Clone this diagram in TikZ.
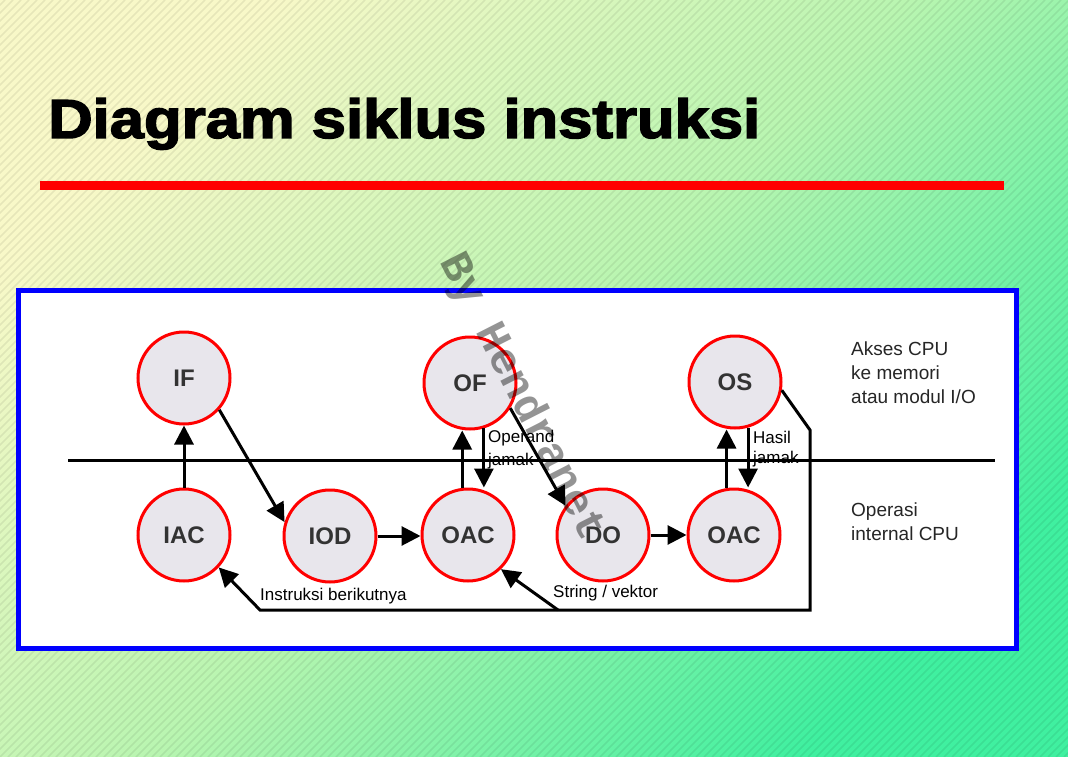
\documentclass[tikz,border=0pt]{standalone}
\usepackage{fontspec}
\usepackage{graphicx}
\setmainfont{Liberation Sans}
\newfontfamily\wmfont{Liberation Mono}
\newfontfamily\titlefont[BoldFeatures={FakeBold=2.5}]{Liberation Sans}
\usetikzlibrary{arrows.meta}
\definecolor{bgA}{HTML}{F8F8C8}
\definecolor{bgM}{HTML}{B8F5B0}
\definecolor{bgB}{HTML}{40F0A0}
\definecolor{circfill}{HTML}{E8E6EC}
\definecolor{lbl}{HTML}{333333}
\begin{document}
\begin{tikzpicture}[x=1pt,y=-1pt,
  stage/.style={circle, draw=red, line width=3pt, fill=circfill, minimum size=92pt, inner sep=0pt, font=\fontsize{24}{24}\selectfont\bfseries, text=lbl},
  conn/.style={line width=3pt, -{Triangle[length=19pt,width=19pt]}},
  plain/.style={line width=3pt},
  note/.style={font=\fontsize{17}{22}\selectfont, anchor=west, inner sep=0pt},
  side/.style={font=\fontsize{19}{24}\selectfont, anchor=north west, align=left, inner sep=0pt, text=black!85},
  stripe/.style={black, opacity=0.07, line width=1.5pt}
]
\useasboundingbox (0,0) rectangle (1068,757);
\shade[top color=bgA, bottom color=bgB, middle color=bgM, shading angle=45] (0,0) rectangle (1068,757);
\begin{scope}
\clip (0,0) rectangle (1068,757);
\foreach \i in {-760,-752,...,1068} \draw[stripe] (\i,757) -- ++(757,-757);
\end{scope}
% title
\node[anchor=base west, inner sep=0pt, font=\titlefont\fontsize{55}{55}\selectfont\bfseries] (title) at (48,138) {\scalebox{1.12}[1]{Diagram siklus instruksi}};
\fill[red] (40,181) rectangle (1004,190);
% frame
\draw[blue, line width=5pt, fill=white] (18,290) rectangle (1016,648);
% stages
\node[stage] (IF) at (184,378) {IF};
\node[stage] (OF) at (470,383) {OF};
\node[stage] (OS) at (735,382) {OS};
\node[stage] (IAC) at (184,535) {IAC};
\node[stage] (IOD) at (330,536) {IOD};
\node[stage] (OAC1) at (468,535) {OAC};
\node[stage] (DO) at (603,535) {DO};
\node[stage] (OAC2) at (734,535) {OAC};
% labels
\node[note] (opl) at (488,438) {Operand};
\node[note] (opj) at (488,461) {jamak};
\node[note] (hl) at (753,437) {Hasil};
\node[note] (hj) at (753,459) {jamak};
\node[note] (ib) at (260,596) {Instruksi berikutnya};
\node[note] (svl) at (553,593) {String / vektor};
\node[side] (ak) at (851,342) {Akses CPU\\ke memori\\atau modul I/O};
\node[side] (op) at (851,503) {Operasi\\internal CPU};
% divider
\coordinate (dl) at (68,460);
\coordinate (dr) at (995,460);
\draw[plain] (dl) -- (dr);
% connectors
\draw[conn] (IAC.north) -- (IF.south);
\draw[conn] (IF.-42) -- (IOD.163);
\draw[conn] (IOD.east) -- (IOD.east -| OAC1.west);
\draw[conn] (OAC1.97) -- (OAC1.97 |- OF.south);
\draw[conn] (OF.287) -- (OF.287 |- OAC1.north);
\draw[conn] (OF.-32) -- (DO.142);
\draw[conn] (DO.east) -- (OAC2.west);
\draw[conn] (OAC2.99) -- (OAC2.99 |- OS.south);
\draw[conn] (OS.286) -- (OS.286 |- OAC2.north);
\coordinate (r1) at (810,430);
\coordinate (r2) at (810,610);
\coordinate (r3) at (260,610);
\coordinate (sv) at (558,610);
\draw[conn, line join=miter] (OS.-10) -- (r1) -- (r2) -- (r3) -- (IAC.-43);
\draw[conn] (sv) -- (OAC1.-46);
% watermark
\node[rotate=-63, font=\wmfont\fontsize{44}{44}\selectfont\bfseries, text=black, opacity=0.42] (wm) at (522,397) {By Hendranet};
\end{tikzpicture}
\end{document}
